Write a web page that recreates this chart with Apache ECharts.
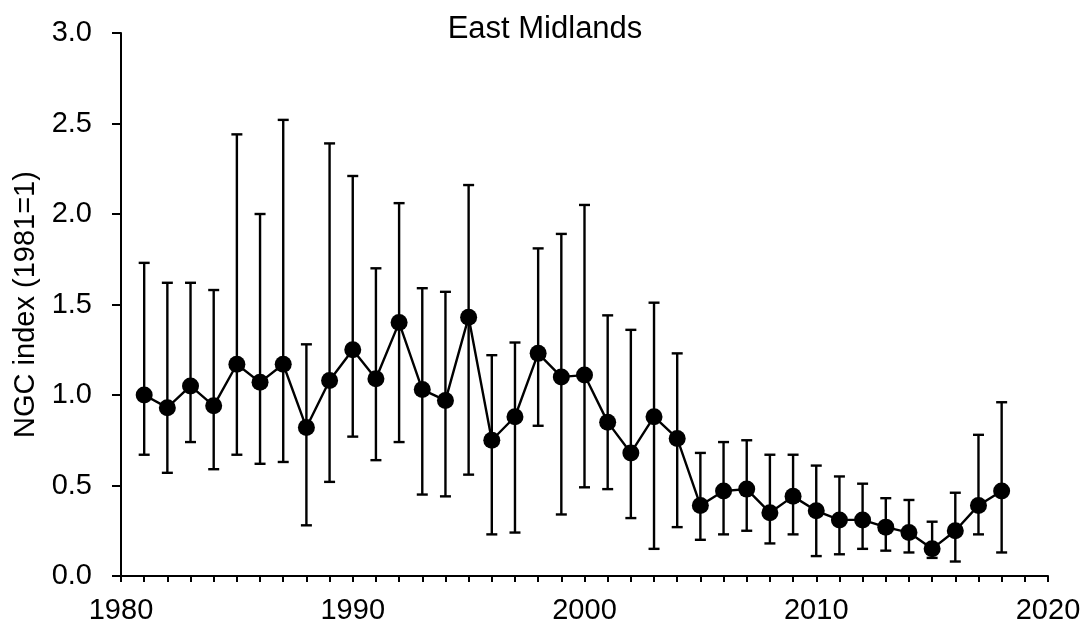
<!DOCTYPE html>
<html>
<head>
<meta charset="utf-8">
<script src="https://cdn.jsdelivr.net/npm/echarts@6/dist/echarts.min.js"></script>
<style>
  html, body { margin: 0; padding: 0; background: #fff; }
  #chart { width: 1090px; height: 631px; }
</style>
</head>
<body>
<div id="chart"></div>
<script>
// Annual NGC index for East Midlands with confidence limits
const years = [1981,1982,1983,1984,1985,1986,1987,1988,1989,1990,
               1991,1992,1993,1994,1995,1996,1997,1998,1999,2000,
               2001,2002,2003,2004,2005,2006,2007,2008,2009,2010,
               2011,2012,2013,2014,2015,2016,2017,2018];
const index = [1.00,0.93,1.05,0.94,1.17,1.07,1.17,0.82,1.08,1.25,
               1.09,1.40,1.03,0.97,1.43,0.75,0.88,1.23,1.10,1.11,
               0.85,0.68,0.88,0.76,0.39,0.47,0.48,0.35,0.44,0.36,
               0.31,0.31,0.27,0.24,0.15,0.25,0.39,0.47];
const upper = [1.73,1.62,1.62,1.58,2.44,2.00,2.52,1.28,2.39,2.21,
               1.70,2.06,1.59,1.57,2.16,1.22,1.29,1.81,1.89,2.05,
               1.44,1.36,1.51,1.23,0.68,0.74,0.75,0.67,0.67,0.61,
               0.55,0.51,0.43,0.42,0.30,0.46,0.78,0.96];
const lower = [0.67,0.57,0.74,0.59,0.67,0.62,0.63,0.28,0.52,0.77,
               0.64,0.74,0.45,0.44,0.56,0.23,0.24,0.83,0.34,0.49,
               0.48,0.32,0.15,0.27,0.20,0.23,0.25,0.18,0.23,0.11,
               0.12,0.15,0.14,0.13,0.10,0.08,0.23,0.13];
const yTicks = [0, 0.5, 1.0, 1.5, 2.0, 2.5, 3.0];
const xTicks = [1980, 1990, 2000, 2010, 2020];

const chart = echarts.init(document.getElementById('chart'));
const FONT = 'Liberation Sans, Arial, sans-serif';
const FS = 29;

const errData = years.map((y, i) => [y, lower[i], upper[i]]);
const lineData = years.map((y, i) => [y, index[i]]);

chart.setOption({
  animation: false,
  backgroundColor: '#fff',
  title: {
    text: 'East Midlands',
    left: 'center',
    top: 9,
    textStyle: { fontFamily: FONT, fontSize: 31, fontWeight: 'normal', color: '#000' }
  },
  grid: { left: 121, right: 42, top: 33, bottom: 55 },
  xAxis: {
    type: 'value',
    min: 1980, max: 2020, interval: 10,
    axisLine: { show: true, lineStyle: { color: '#000', width: 2 } },
    axisTick: { show: true, length: 6, lineStyle: { color: '#000', width: 2 } },
    minorTick: { show: true, splitNumber: 10, length: 6, lineStyle: { color: '#000', width: 2 } },
    splitLine: { show: false },
    axisLabel: {
      fontFamily: FONT, fontSize: FS, color: '#000', margin: 20,
      formatter: v => xTicks.includes(v) ? String(v) : ''
    }
  },
  yAxis: {
    type: 'value',
    min: 0, max: 3, interval: 0.5,
    name: 'NGC index (1981=1)',
    nameLocation: 'middle',
    nameGap: 78,
    nameTextStyle: { fontFamily: FONT, fontSize: FS, color: '#000' },
    axisLine: { show: true, lineStyle: { color: '#000', width: 2 } },
    axisTick: { show: true, inside: false, length: 9, lineStyle: { color: '#000', width: 2 } },
    splitLine: { show: false },
    axisLabel: {
      fontFamily: FONT, fontSize: FS, color: '#000', margin: 29,
      formatter: v => yTicks.includes(v) ? v.toFixed(1) : ''
    }
  },
  series: [
    {
      type: 'custom',
      z: 1,
      data: errData,
      encode: { x: 0, y: [1, 2] },
      renderItem: function (params, api) {
        const x = api.value(0);
        const lo = api.coord([x, api.value(1)]);
        const hi = api.coord([x, api.value(2)]);
        const cap = 5.5;
        const style = { stroke: '#000', lineWidth: 2.4, fill: null };
        return {
          type: 'group',
          children: [
            { type: 'line', shape: { x1: lo[0], y1: lo[1], x2: hi[0], y2: hi[1] }, style },
            { type: 'line', shape: { x1: hi[0] - cap, y1: hi[1], x2: hi[0] + cap, y2: hi[1] }, style },
            { type: 'line', shape: { x1: lo[0] - cap, y1: lo[1], x2: lo[0] + cap, y2: lo[1] }, style }
          ]
        };
      }
    },
    {
      type: 'line',
      z: 2,
      data: lineData,
      symbol: 'circle',
      symbolSize: 17,
      lineStyle: { color: '#000', width: 2.4 },
      itemStyle: { color: '#000' }
    }
  ]
});
</script>
</body>
</html>
